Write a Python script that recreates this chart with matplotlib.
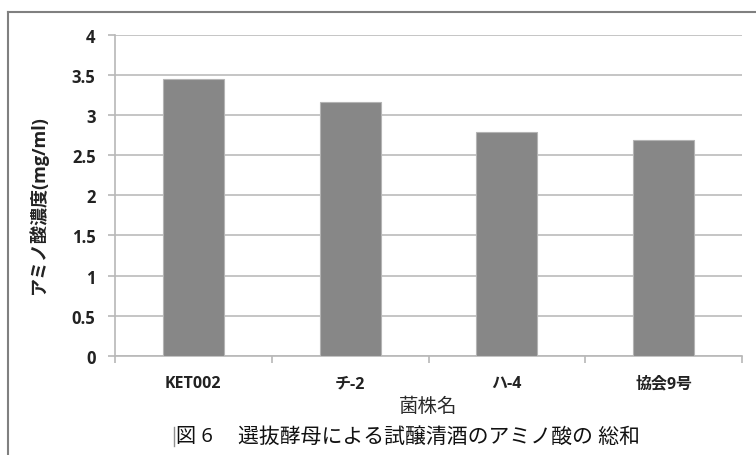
import matplotlib
matplotlib.use("Agg")
import matplotlib.pyplot as plt
from matplotlib.lines import Line2D

plt.rcParams['font.family'] = ['Open Sans', 'Noto Sans CJK JP', 'DejaVu Sans']

# Data
strains = ["KET002", "チ-2", "ハ-4", "協会9号"]
amino_acid = [3.45, 3.17, 2.79, 2.69]
yticks = [0, 0.5, 1, 1.5, 2, 2.5, 3, 3.5, 4]
ytick_labels = ["0", "0.5", "1", "1.5", "2", "2.5", "3", "3.5", "4"]

W, H = 756, 456
fig = plt.figure(figsize=(W / 100, H / 100), dpi=100)
ax = fig.add_axes([115 / W, 1 - 356.7 / H, (742 - 115) / W, (356.7 - 36) / H])

x = range(len(strains))
ax.bar(x, amino_acid, width=0.39, color="#878787", edgecolor="#b4b4b4",
       linewidth=0.8, zorder=3)

ax.set_xlim(-0.5, len(strains) - 0.5)
ax.set_ylim(0, 4)
ax.set_yticks(yticks)
ax.set_yticklabels(ytick_labels, fontsize=12, fontweight="bold", color="#222222")
ax.set_xticks(list(x))
ax.set_xticklabels(strains, fontsize=11.5, fontweight="bold", color="#222222")

# category boundary ticks on the x axis
ax.set_xticks([i - 0.5 for i in range(len(strains) + 1)], minor=True)
ax.tick_params(axis="x", which="major", length=0, pad=14)
ax.tick_params(axis="x", which="minor", length=5, width=1.2, color="#b8b8b8")
ax.tick_params(axis="y", length=5, width=1.2, color="#b8b8b8", pad=9)

ax.yaxis.grid(True, color="#c0c0c0", linewidth=1.3, zorder=0)
for side in ["top", "right"]:
    ax.spines[side].set_visible(False)
for side in ["left", "bottom"]:
    ax.spines[side].set_color("#b8b8b8")
    ax.spines[side].set_linewidth(1.2)

ax.set_ylabel("アミノ酸濃度(mg/ml)", fontsize=13, fontweight="bold",
              color="#222222")
ax.yaxis.set_label_coords((48 - 115) / (742 - 115), 0.473)

fig.text(428.5 / W, 1 - 407 / H, "菌株名", fontsize=14, ha="center", va="center",
         color="#2a2a2a")

fig.text(176 / W, 1 - 437 / H, "図 6", fontsize=14.5, ha="left", va="center",
         color="#111111")
fig.text(238 / W, 1 - 437 / H, "選抜酵母による試醸清酒のアミノ酸の 総和",
         fontsize=15, ha="left", va="center", color="#111111")

# outer frame
fig.add_artist(Line2D([8 / W, 1], [1 - 13 / H, 1 - 13 / H], color="#808080",
                      linewidth=1.5, transform=fig.transFigure))
fig.add_artist(Line2D([8 / W, 8 / W], [0, 1 - 13 / H], color="#808080",
                      linewidth=1.5, transform=fig.transFigure))
fig.add_artist(Line2D([174 / W, 174 / W], [1 - 447 / H, 1 - 428 / H], color="#909090",
                      linewidth=1, transform=fig.transFigure))

fig.savefig("out.png", dpi=100)
